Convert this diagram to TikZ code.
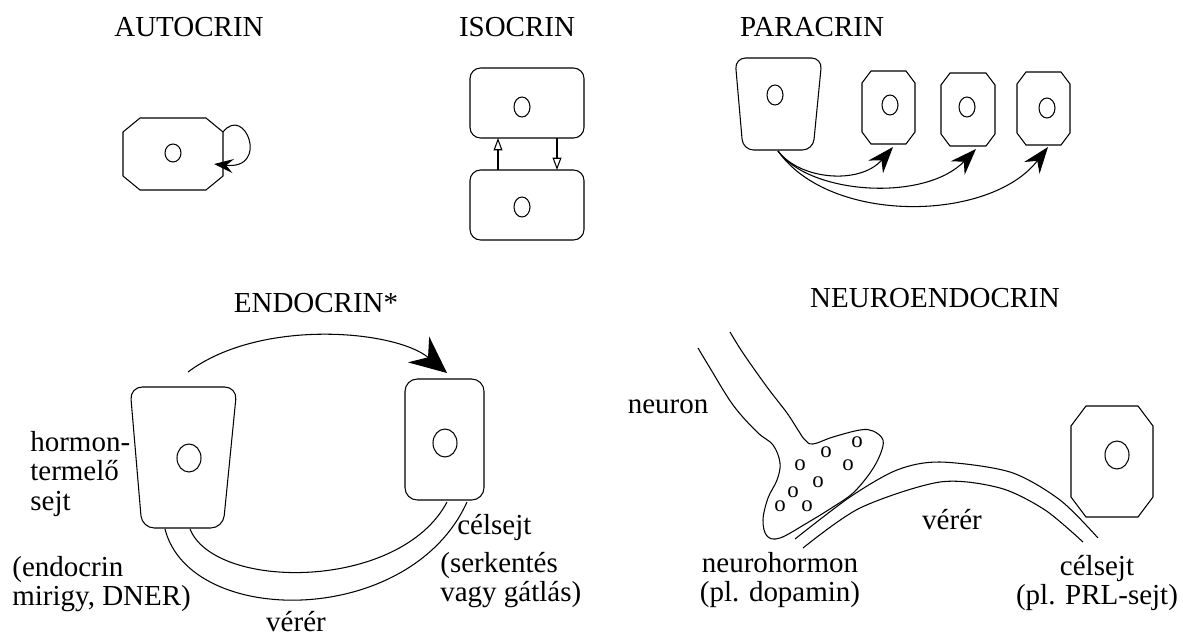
\documentclass[tikz,border=0pt]{standalone}
\usepackage{fontspec}
\setmainfont{Liberation Serif}
\usetikzlibrary{arrows.meta}
% octagon cell: [options](left,top)(right,bottom)(chamfer x,chamfer y)
\def\octcell[#1](#2,#3)(#4,#5)(#6,#7){\draw[#1] (#2,#3+#7) -- (#2+#6,#3) -- (#4-#6,#3) -- (#4,#3+#7) -- (#4,#5-#7) -- (#4-#6,#5) -- (#2+#6,#5) -- (#2,#5-#7) -- cycle;}
\def\nucleus(#1)(#2,#3){\draw[cell] (#1) ellipse [x radius=#2, y radius=#3];}

\begin{document}
\begin{tikzpicture}[x=0.02cm, y=-0.02cm,
    every node/.style={font=\fontsize{16.5}{17}\selectfont, inner sep=0pt},
    cell/.style={line width=0.6pt},
    vesicle/.style={font=\fontsize{13}{13}\selectfont},
    autoarrow/.style={line width=0.6pt, -{Stealth[length=11pt,width=8pt,inset=4pt]}},
    isoarrow/.style={line width=1.3pt, -{Triangle[open,line width=0.6pt,length=7pt,width=5pt]}},
    paraarrow/.style={line width=0.6pt, -{Stealth[length=15pt,width=11pt,inset=5pt]}},
    endoarrow/.style={line width=0.6pt, -{Stealth[length=21pt,width=19pt,inset=7pt]}},
    vessel/.style={line width=0.6pt}]
    \useasboundingbox (0,0) rectangle (1183,639);
    %%%%% START %%%%%

    % titles
    \node (autotitle) at (189,27) {AUTOCRIN};
    \node (isotitle) at (517,27) {ISOCRIN};
    \node (paratitle) at (812,27) {PARACRIN};
    \node (endotitle) at (316,303) {ENDOCRIN*};
    \node (neurotitle) at (935,298) {NEUROENDOCRIN};

    % autocrin
    \octcell[cell](123,118)(223,190)(17,14);
    \nucleus(173,153)(8,9);
    \coordinate (auto-out) at (223,132);
    \coordinate (auto-in) at (214,164);
    \draw[autoarrow] (auto-out) .. controls (245,104) and (270,170) .. (auto-in);

    % isocrin
    \draw[cell, rounded corners=6pt] (470,68) rectangle (584,138);
    \draw[cell, rounded corners=6pt] (470,170) rectangle (584,240);
    \nucleus(522,107)(8,10);
    \nucleus(522,207)(8,10);
    \coordinate (iso-up-a) at (498,170);
    \coordinate (iso-up-b) at (498,138);
    \coordinate (iso-dn-a) at (557,138);
    \coordinate (iso-dn-b) at (557,170);
    \draw[isoarrow] (iso-up-a) -- (iso-up-b);
    \draw[isoarrow] (iso-dn-a) -- (iso-dn-b);

    % paracrin
    \draw[cell, rounded corners=6pt] (735,58) -- (822,58) -- (813,150) -- (743,150) -- cycle;
    \nucleus(775,95)(8,10);
    \octcell[cell](862,71)(915,144)(9,12);
    \octcell[cell](941,73)(995,146)(9,12);
    \octcell[cell](1017,72)(1070,145)(9,12);
    \nucleus(890,105)(8,10);
    \nucleus(967,107)(8,10);
    \nucleus(1047,108)(8,10);
    \coordinate (para-src) at (778,151);
    \coordinate (para-t1) at (893,147);
    \coordinate (para-t2) at (976,149);
    \coordinate (para-t3) at (1048,147);
    \draw[paraarrow] (para-src) .. controls (800,180) and (860,185) .. (para-t1);
    \draw[paraarrow] (para-src) .. controls (810,195) and (925,202) .. (para-t2);
    \draw[paraarrow] (para-src) .. controls (830,225) and (990,222) .. (para-t3);

    % endocrin
    \draw[cell, rounded corners=7pt] (130,387) -- (237,387) -- (223,528) -- (142,528) -- cycle;
    \draw[cell, rounded corners=7pt] (405,379) rectangle (484,500);
    \nucleus(189,458)(12,14);
    \nucleus(445,443)(12,14);
    \coordinate (endo-src) at (188,372);
    \coordinate (endo-tgt) at (447,373);
    \draw[endoarrow] (endo-src) .. controls (260,318) and (395,330) .. (endo-tgt);
    \draw[vessel] (165,529) .. controls (190,628) and (410,628) .. (467,502);
    \draw[vessel] (190,529) .. controls (215,591) and (400,591) .. (447,502);
    \node[anchor=west, align=left] (lbl-hormon) at (30,474) {hormon-\\termelő\\sejt};
    \node[anchor=west, align=left] (lbl-gland) at (12,584) {(endocrin\\mirigy, DNER)};
    \node (lbl-endo-vessel) at (296,622) {vérér};
    \node[anchor=west] (lbl-endo-target) at (457,528) {célsejt};
    \node[anchor=west, align=left] (lbl-effect) at (440,580) {(serkentés\\vagy gátlás)};

    % neuroendocrin
    \draw[cell] plot[smooth, tension=0.6] coordinates {(698,348) (710,368) (733,405) (757,432) (773,445) (780,463) (777,480) (768,498) (763,520) (767,536) (780,538) (807,523) (833,507) (853,493) (870,473) (880,455) (883,440) (873,431) (860,430) (833,437) (813,444) (805,440) (798,430) (787,413) (767,387) (743,353) (730,332)};
    \foreach \vx/\vy [count=\vi] in {780/506, 793/492, 807/506, 818/482, 800/465, 826/452, 848/465, 857/442}
        \node[vesicle] (ves\vi) at (\vx,\vy) {o};
    \draw[vessel] plot[smooth] coordinates {(795,539) (850,497) (897,470) (940,462) (1010,472) (1060,500) (1098,538)};
    \draw[vessel] plot[smooth] coordinates {(803,548) (860,508) (940,482) (1000,488) (1045,510) (1083,542)};
    \octcell[cell](1071,406)(1153,517)(15,20);
    \nucleus(1117,455)(12,14);
    \node (lbl-neuron) at (668,407) {neuron};
    \node (lbl-neuro-vessel) at (952,520) {vérér};
    \node[align=center] (lbl-neurohormon) at (780,580) {neurohormon\\(pl. dopamin)};
    \node[align=center] (lbl-prl) at (1097,583) {célsejt\\(pl. PRL-sejt)};

    %%%%% END %%%%%
\end{tikzpicture}
\end{document}
